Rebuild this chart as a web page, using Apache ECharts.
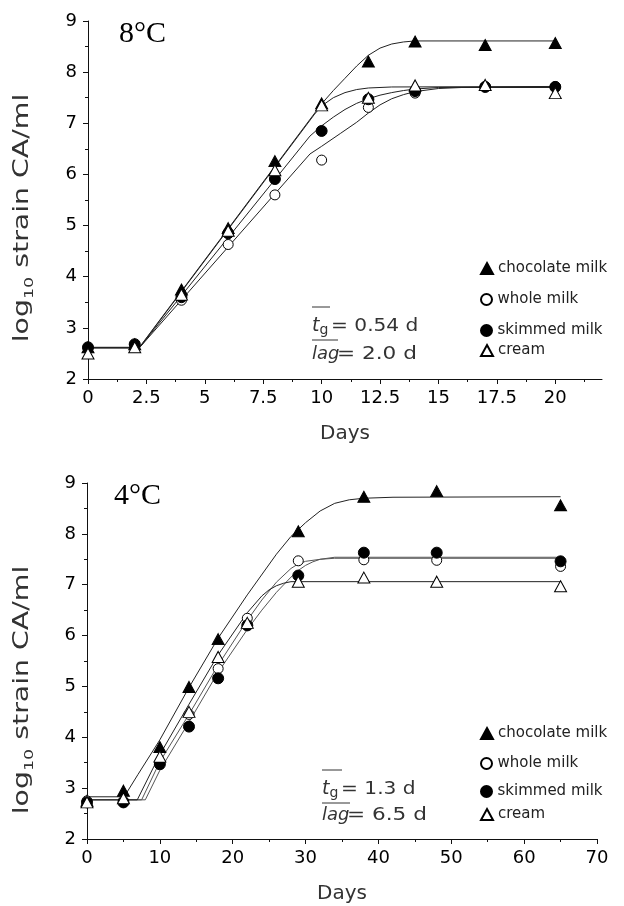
<!DOCTYPE html>
<html>
<head>
<meta charset="utf-8">
<script src="https://cdn.jsdelivr.net/npm/echarts@6/dist/echarts.min.js"></script>
<style>
  html, body { margin: 0; padding: 0; background: #fff; }
  #chart { width: 624px; height: 906px; }
</style>
</head>
<body>
<div id="chart"></div>
<script>
// ---- Measured counts, log10 strain CA per ml ----
const seriesNames = ['chocolate milk', 'whole milk', 'skimmed milk', 'cream'];

// 8 °C storage
const days8   = [0, 2, 4, 6, 8, 10, 12, 14, 17, 20];
const choc8   = [2.62, 2.68, 3.75, 4.95, 6.26, 7.39, 8.21, 8.60, 8.53, 8.57];
const whole8  = [2.60, 2.66, 3.54, 4.63, 5.60, 6.28, 7.31, 7.59, 7.72, 7.72];
const skim8   = [2.62, 2.68, 3.60, 4.85, 5.91, 6.85, 7.47, 7.63, 7.71, 7.71];
const cream8  = [2.50, 2.62, 3.65, 4.90, 6.08, 7.35, 7.50, 7.74, 7.75, 7.59];

// 4 °C storage
const days4   = [0, 5, 10, 14, 18, 22, 29, 38, 48, 65];
const choc4   = [2.75, 2.95, 3.81, 4.99, 5.93, null, 8.05, 8.73, 8.84, 8.56];
const whole4  = [2.75, 2.75, 3.50, 4.45, 5.35, 6.34, 7.47, 7.49, 7.48, 7.36];
const skim4   = [2.72, 2.72, 3.47, 4.21, 5.16, 6.20, 7.18, 7.63, 7.63, 7.46];
const cream4  = [2.72, 2.80, 3.62, 4.50, 5.58, 6.25, 7.06, 7.14, 7.06, 6.97];

// Fitted growth curves: [day, log10 count] vertices
const fitChoc8  = [[0,2.62],[2.2,2.62],[10,7.38],[10.5,7.64],[11,7.88],[11.5,8.12],[12,8.33],[12.5,8.47],[13,8.55],[13.5,8.59],[14,8.61],[20,8.61]];
const fitWhole8 = [[0,2.61],[2.2,2.61],[9.5,6.4],[10,6.55],[10.8,6.8],[11.5,7.02],[12,7.2],[12.5,7.36],[13,7.48],[13.5,7.56],[14,7.62],[15,7.68],[16,7.7],[20,7.7]];
const fitSkim8  = [[0,2.61],[2.2,2.61],[9.5,6.75],[10,6.95],[10.5,7.12],[11,7.27],[11.5,7.39],[12,7.48],[12.5,7.55],[13,7.6],[13.5,7.64],[14,7.67],[15,7.7],[20,7.71]];
const fitCream8 = [[0,2.61],[2.2,2.61],[9.7,7.18],[10,7.34],[10.5,7.5],[11,7.6],[11.5,7.66],[12,7.69],[13,7.71],[20,7.72]];

const fitChoc4  = [[0,2.83],[5.1,2.83],[7,3.27],[10,3.95],[14,4.98],[18,5.95],[22,6.8],[26,7.6],[28,7.95],[30,8.22],[32,8.45],[34,8.6],[36,8.67],[38,8.7],[42,8.72],[65,8.73]];
const fitWhole4 = [[0,2.77],[7.5,2.77],[10,3.52],[14,4.45],[18,5.42],[22,6.3],[24,6.7],[26,7.05],[28,7.32],[29,7.41],[30,7.46],[32,7.5],[34,7.52],[65,7.52]];
const fitSkim4  = [[0,2.77],[8,2.77],[10,3.35],[14,4.3],[18,5.28],[22,6.12],[24,6.5],[26,6.85],[28,7.15],[29,7.28],[30,7.38],[31,7.45],[32,7.5],[34,7.54],[65,7.54]];
const fitCream4 = [[0,2.77],[6.9,2.77],[10,3.66],[14,4.65],[18,5.62],[22,6.45],[24,6.78],[25,6.9],[26,6.98],[27,7.03],[28,7.06],[65,7.06]];

// Axis tick labels
const xTicks8 = [0, 2.5, 5, 7.5, 10, 12.5, 15, 17.5, 20];
const xTicks4 = [0, 10, 20, 30, 40, 50, 60, 70];

// ---- Styling ----
const SANS = '"DejaVu Sans", sans-serif';
const SERIF = '"Liberation Serif", "Times New Roman", serif';
const INK = '#111';

const markerStyle = {
  'chocolate milk': { symbol: 'triangle', size: [12, 11], fill: '#000' },
  'whole milk':     { symbol: 'circle',   size: 10,       fill: '#fff' },
  'skimmed milk':   { symbol: 'circle',   size: 11,       fill: '#000' },
  'cream':          { symbol: 'triangle', size: [12, 11], fill: '#fff' }
};

function pairs(days, vals) {
  const out = [];
  days.forEach((d, i) => { if (vals[i] != null) out.push([d, vals[i]]); });
  return out;
}

function scatter(name, gridIdx, days, vals) {
  const m = markerStyle[name];
  return {
    type: 'scatter', name, xAxisIndex: gridIdx, yAxisIndex: gridIdx,
    data: pairs(days, vals), symbol: m.symbol, symbolSize: m.size,
    itemStyle: { color: m.fill, borderColor: '#000', borderWidth: 1, opacity: 1 },
    clip: false, z: 4, silent: true
  };
}

function curve(gridIdx, pts, color) {
  return {
    type: 'line', xAxisIndex: gridIdx, yAxisIndex: gridIdx, data: pts,
    showSymbol: false, smooth: false,
    lineStyle: { color: color || '#222', width: 1 }, z: 2, silent: true
  };
}

function xAxis(gridIdx, max, interval, ticks) {
  return {
    type: 'value', gridIndex: gridIdx, min: 0, max, interval,
    name: 'Days', nameLocation: 'middle', nameGap: 45,
    nameTextStyle: { fontFamily: SANS, fontSize: 20, color: '#333' },
    axisLine: { lineStyle: { color: INK, width: 1 } },
    axisTick: { length: 5, lineStyle: { color: INK }, customValues: ticks },
    minorTick: { show: true, splitNumber: 2, length: 3, lineStyle: { color: INK } },
    axisLabel: { customValues: ticks, margin: 10, fontFamily: SANS, fontSize: 18, color: '#000' },
    splitLine: { show: false }
  };
}

function yAxis(gridIdx) {
  return {
    type: 'value', gridIndex: gridIdx, min: 2, max: 9, interval: 1,
    axisLine: { show: true, lineStyle: { color: INK, width: 1 } },
    axisTick: { show: true, length: 5, lineStyle: { color: INK } },
    minorTick: { show: true, splitNumber: 2, length: 3, lineStyle: { color: INK } },
    axisLabel: { margin: 11, fontFamily: SANS, fontSize: 18, color: '#000' },
    splitLine: { show: false }
  };
}

// One legend block per entry so the rows keep their own spacing
function legendRows(rowsY) {
  return seriesNames.map((n, i) => ({
    data: [n], orient: 'vertical', left: 480, top: rowsY[i] - 6,
    itemWidth: 12, itemHeight: 11, padding: 0, selectedMode: false,
    textStyle: { fontFamily: SANS, fontSize: 15, color: '#222' }
  }));
}

function yTitle(cy) {
  return {
    type: 'text', x: 23, y: cy, rotation: Math.PI / 2, scaleX: 1.35, silent: true,
    style: {
      text: '{a|log}{s|10}{a| strain CA/ml}', align: 'center', verticalAlign: 'middle',
      fill: '#333',
      rich: {
        a: { fontFamily: SANS, fontSize: 21, lineHeight: 26, fill: '#333' },
        s: { fontFamily: SANS, fontSize: 13, lineHeight: 26, verticalAlign: 'bottom', fill: '#333' }
      }
    }
  };
}

function tempTitle(text, x, cy) {
  return {
    type: 'text', x, y: cy, silent: true,
    style: { text, fontFamily: SERIF, fontSize: 30, fill: '#000', align: 'left', verticalAlign: 'middle' }
  };
}

// Mean generation time and mean lag annotation
function growthNote(x0, row1, row2, tgText, lagText, barTg, barLag) {
  const line = (x1, x2, y) => ({
    type: 'line', silent: true, shape: { x1, y1: y, x2, y2: y },
    style: { stroke: '#333', lineWidth: 1 }
  });
  return [
    line(x0, x0 + barTg, row1 - 19),
    {
      type: 'text', x: x0, y: row1, silent: true,
      style: {
        text: '{t|t}{g|g}', verticalAlign: 'middle', align: 'left',
        rich: {
          t: { fontFamily: SANS, fontSize: 19, fontStyle: 'italic', lineHeight: 22, fill: '#333' },
          g: { fontFamily: SANS, fontSize: 14, lineHeight: 22, verticalAlign: 'bottom', fill: '#333' }
        }
      }
    },
    {
      type: 'text', x: x0 + 19, y: row1, scaleX: 1.12, silent: true,
      style: { text: tgText, fontFamily: SANS, fontSize: 18, fill: '#333', align: 'left', verticalAlign: 'middle' }
    },
    line(x0, x0 + barLag, row1 + 14),
    {
      type: 'text', x: x0, y: row2, silent: true,
      style: { text: 'lag', fontFamily: SANS, fontSize: 18, fontStyle: 'italic', fill: '#333', align: 'left', verticalAlign: 'middle' }
    },
    {
      type: 'text', x: x0 + 25, y: row2, scaleX: 1.2, silent: true,
      style: { text: lagText, fontFamily: SANS, fontSize: 18, fill: '#333', align: 'left', verticalAlign: 'middle' }
    }
  ];
}

const chart = echarts.init(document.getElementById('chart'), null, { renderer: 'canvas' });

chart.setOption({
  animation: false,
  backgroundColor: '#fff',
  grid: [
    { left: 88, top: 21, width: 514, height: 358 },
    { left: 87, top: 483, width: 510, height: 356 }
  ],
  xAxis: [xAxis(0, 22, 2.5, xTicks8), xAxis(1, 70, 10, xTicks4)],
  yAxis: [yAxis(0), yAxis(1)],
  legend: legendRows([267, 298, 329, 349]).concat(legendRows([732, 762, 790, 813])),
  series: [
    curve(0, fitChoc8), curve(0, fitWhole8), curve(0, fitSkim8), curve(0, fitCream8),
    scatter('chocolate milk', 0, days8, choc8),
    scatter('whole milk', 0, days8, whole8),
    scatter('skimmed milk', 0, days8, skim8),
    scatter('cream', 0, days8, cream8),
    curve(1, fitChoc4), curve(1, fitWhole4, '#555'), curve(1, fitSkim4, '#555'), curve(1, fitCream4),
    scatter('chocolate milk', 1, days4, choc4),
    scatter('whole milk', 1, days4, whole4),
    scatter('skimmed milk', 1, days4, skim4),
    scatter('cream', 1, days4, cream4)
  ],
  graphic: [
    tempTitle('8°C', 119, 34),
    tempTitle('4°C', 114, 496),
    yTitle(218),
    yTitle(690)
  ]
    .concat(growthNote(312, 326, 354, '= 0.54 d', '= 2.0 d', 18, 26))
    .concat(growthNote(322, 789, 815, '= 1.3 d', '= 6.5 d', 20, 28))
});
</script>
</body>
</html>
